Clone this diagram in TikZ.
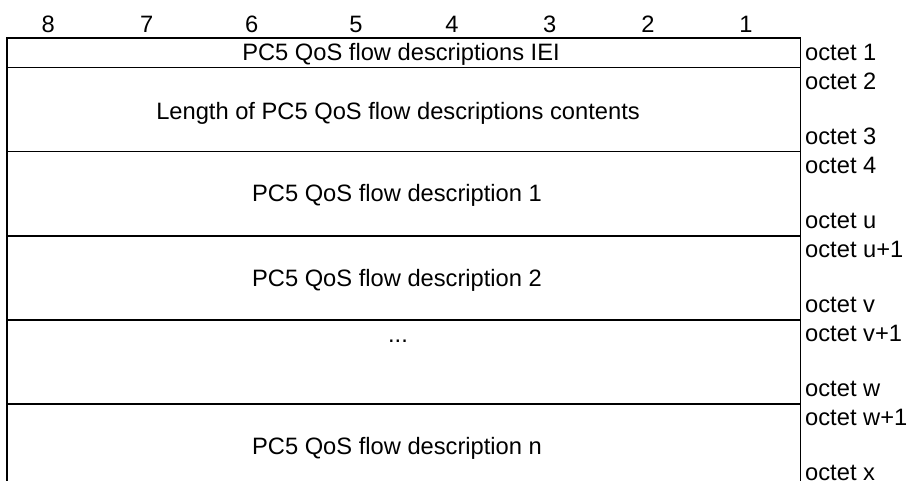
\documentclass[tikz,border=0pt]{standalone}
\usepackage{fontspec}
\setmainfont{Liberation Sans}
\begin{document}
\begin{tikzpicture}[x=1pt,y=-1pt,
  lbl/.style={inner sep=0pt,anchor=base,font=\fontsize{23.7}{28}\selectfont},
  oct/.style={inner sep=0pt,anchor=base west,font=\fontsize{23.7}{28}\selectfont},
  rule/.style={line width=1.8pt}]
\useasboundingbox (0,0) rectangle (907,480);
\begin{scope}
\clip (0,0) rectangle (907,480);
% outline
\draw[rule] (7,481) -- (7,38) -- (800.5,38) -- (800.5,481);
\foreach \yy in {67.5,151.5,236,320,404} \draw[rule] (7,\yy) -- (800.5,\yy);
\end{scope}
% bit numbers
\node[lbl] (b8) at (48.3,32.7) {8};
\node[lbl] (b7) at (146.7,32.7) {7};
\node[lbl] (b6) at (251.7,32.7) {6};
\node[lbl] (b5) at (356,32.7) {5};
\node[lbl] (b4) at (452,32.7) {4};
\node[lbl] (b3) at (549.7,32.7) {3};
\node[lbl] (b2) at (648,32.7) {2};
\node[lbl] (b1) at (746,32.7) {1};
% field texts
\node[lbl] (iei) at (401,60.7) {PC5 QoS flow descriptions IEI};
\node[lbl] (len) at (398,119) {Length of PC5 QoS flow descriptions contents};
\node[lbl] (d1) at (397,201.7) {PC5 QoS flow description 1};
\node[lbl] (d2) at (397,286) {PC5 QoS flow description 2};
\node[lbl] (dots) at (398,342) {...};
\node[lbl] (dn) at (397,454) {PC5 QoS flow description n};
% octet labels
\node[oct] (o1) at (805,60.5) {octet 1};
\node[oct] (o2) at (805,89) {octet 2};
\node[oct] (o3) at (805,144) {octet 3};
\node[oct] (o4) at (805,173) {octet 4};
\node[oct] (ou) at (805,228.5) {octet u};
\node[oct] (ou1) at (805,257.5) {octet u+1};
\node[oct] (ov) at (805,312.5) {octet v};
\node[oct] (ov1) at (805,341.5) {octet v+1};
\node[oct] (ow) at (805,396.5) {octet w};
\node[oct] (ow1) at (805,425.5) {octet w+1};
\node[oct] (ox) at (805,480.5) {octet x};
\end{tikzpicture}
\end{document}
